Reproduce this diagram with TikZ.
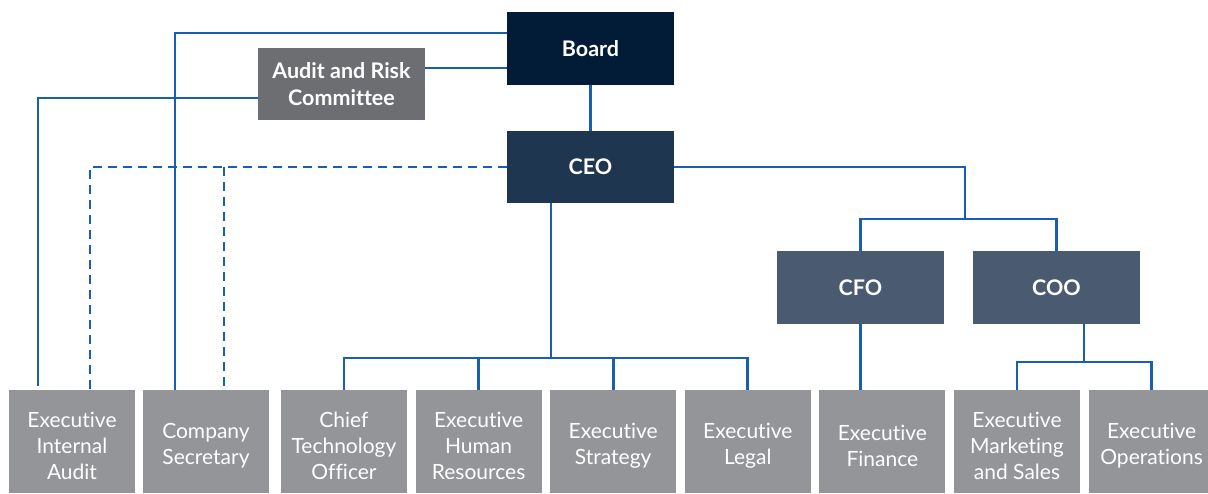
\documentclass[tikz,border=0pt]{standalone}
\usepackage{fontspec}
\setmainfont{Lato}[Ligatures=NoCommon]
\usepackage{xcolor}
\definecolor{BoardNavy}{HTML}{021C37}
\definecolor{ChiefNavy}{HTML}{1F3650}
\definecolor{OfficerSlate}{HTML}{4A5A70}
\definecolor{CommitteeGrey}{HTML}{6D6E72}
\definecolor{UnitGrey}{HTML}{939598}
\definecolor{LinkBlue}{HTML}{1A5FAE}
\usepackage{tikz}
\usetikzlibrary{positioning}
% extra head room on the first line of a unit label
\newcommand{\unitgap}{\rule{0pt}{24pt}}

\begin{document}
\begin{tikzpicture}[
  x=1pt, y=-1pt,
  head/.style={text=white, align=center, inner sep=2pt, outer sep=0pt,
               minimum width=167pt, minimum height=73pt,
               font=\bfseries\fontsize{21.5}{27}\selectfont},
  unit/.style={fill=UnitGrey, text=white, align=center, inner sep=2pt,
               outer sep=0pt, minimum width=126pt, minimum height=103pt,
               font=\fontsize{21}{26}\selectfont},
  link/.style={LinkBlue, line width=2.8pt},
  dashlink/.style={link, dash pattern=on 9pt off 6pt}
]
  \useasboundingbox (0,0) rectangle (1208,493);

  % top of the structure
  \node[head, fill=BoardNavy] (board) at (590.5,48.5) {Board};
  \node[head, fill=CommitteeGrey, minimum height=72pt] (arc) at (341.5,84)
    {Audit and Risk\\Committee};
  \node[head, fill=ChiefNavy, minimum height=72pt] (ceo) at (590.5,167) {CEO};
  \node[head, fill=OfficerSlate] (cfo) at (860.5,287.5) {CFO};
  \node[head, fill=OfficerSlate] (coo) at (1056.5,287.5) {COO};

  % bottom row of units
  \node[unit] (intaudit) at (72,441.5) {\unitgap Executive\\Internal\\Audit};
  \node[unit, right=8pt of intaudit] (cosec) {\unitgap Company\\Secretary};
  \node[unit, right=12pt of cosec] (cto) {\unitgap Chief\\Technology\\Officer};
  \node[unit, right=8.6pt of cto] (hr) {\unitgap Executive\\Human\\Resources};
  \node[unit, right=8.6pt of hr] (strategy) {\unitgap Executive\\Strategy};
  \node[unit, right=8.6pt of strategy] (legal) {\unitgap Executive\\Legal};
  \node[unit, right=8.6pt of legal] (finance) {\unitgap Executive\\Finance};
  \node[unit, right=8.6pt of finance] (marketing)
    {\unitgap Executive\\Marketing\\and Sales};
  \node[unit, right=8.6pt of marketing] (ops) {\unitgap Executive\\Operations};

  % split points
  \coordinate (ceosplit) at (551,358);
  \coordinate (cxsplit) at (965,219);
  \coordinate (coosplit) at (1084,362);
  \coordinate (auditend) at ([xshift=-34pt,yshift=4pt]intaudit.north);
  \coordinate (auditdash) at ([xshift=18pt]intaudit.north);
  \coordinate (secline) at ([xshift=-31pt]cosec.north);
  \coordinate (secdash) at ([xshift=18pt]cosec.north);

  % board lines
  \draw[link] (board) -- (ceo);
  \draw[link] (board.west |- 0,33) -| (secline);
  \draw[link] (board.west |- 0,68) -- (arc.east |- 0,68);
  \draw[link] (arc.west |- 0,98) -| (auditend);

  % dotted reporting from the CEO
  \draw[dashlink] (ceo.west) -| (auditdash);
  \draw[dashlink] (secdash |- ceo.west) -- (secdash);

  % CEO to the units below
  \draw[link] (ceo.south -| ceosplit) -- (ceosplit);
  \draw[link] (cto.north) |- (ceosplit) -| (legal.north);
  \foreach \u in {hr, strategy}
    \draw[link] (\u.north) -- (\u.north |- ceosplit);

  % CEO to CFO and COO
  \draw[link] (ceo.east) -| (cxsplit);
  \draw[link] (cfo.north) |- (cxsplit) -| (coo.north);
  \draw[link] (cfo.south) -- (cfo.south |- finance.north);
  \draw[link] (coo.south -| coosplit) -- (coosplit);
  \draw[link] (marketing.north) |- (coosplit) -| (ops.north);
\end{tikzpicture}
\end{document}
